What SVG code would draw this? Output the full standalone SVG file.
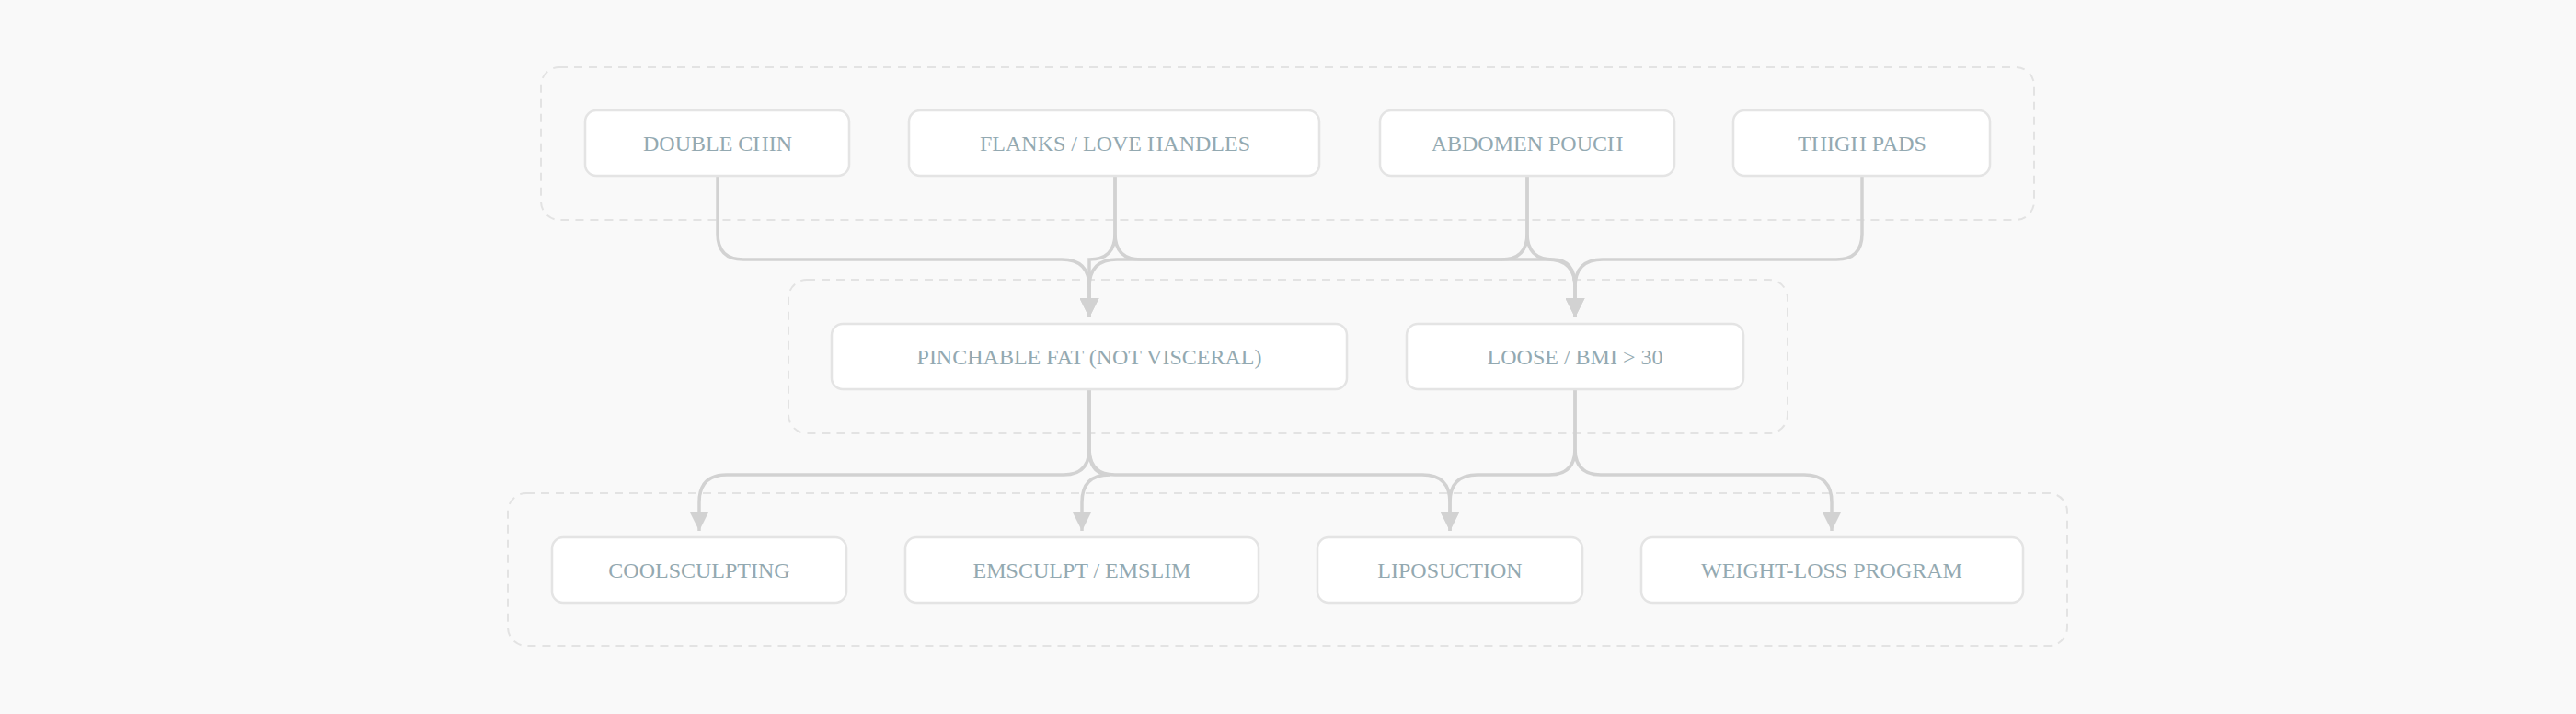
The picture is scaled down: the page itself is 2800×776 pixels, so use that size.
<svg xmlns="http://www.w3.org/2000/svg" width="2800" height="776" viewBox="0 0 2800 776">
<defs>
<style>
.grp{fill:none;stroke:#e3e3e3;stroke-width:2;stroke-dasharray:9 7}
.box{fill:#fff;stroke:#e4e4e4;stroke-width:2.5}
.t{font-family:"Liberation Serif",serif;font-size:24px;fill:#93a9b1;text-anchor:middle;dominant-baseline:central}
.e{fill:none;stroke:#d2d2d2;stroke-width:3.5}
</style>
<marker id="ah" viewBox="0 0 10 10" refX="10" refY="5" markerWidth="6" markerHeight="6" markerUnits="strokeWidth" orient="auto"><path d="M0,0L10,5L0,10z" fill="#d2d2d2"/></marker>
</defs>
<rect width="2800" height="776" fill="#f9f9f9"/>
<rect class="grp" x="588" y="73" width="1623" height="166" rx="20"/>
<rect class="grp" x="857" y="304" width="1086" height="167" rx="20"/>
<rect class="grp" x="552" y="536" width="1695" height="166" rx="20"/>
<g id="connectors">
<path class="e" marker-end="url(#ah)" d="M780,191V254Q780,282 808,282H1154Q1184,282 1184,312V345"/>
<path class="e" marker-end="url(#ah)" d="M1212,191V254Q1212,282 1184,282Q1184,282 1184,312V345"/>
<path class="e" marker-end="url(#ah)" d="M1212,191V254Q1212,282 1240,282H1682Q1712,282 1712,312V345"/>
<path class="e" marker-end="url(#ah)" d="M1660,191V254Q1660,282 1632,282H1214Q1184,282 1184,312V345"/>
<path class="e" marker-end="url(#ah)" d="M1660,191V254Q1660,282 1688,282Q1712,282 1712,312V345"/>
<path class="e" marker-end="url(#ah)" d="M2024,191V254Q2024,282 1996,282H1742Q1712,282 1712,312V345"/>
<path class="e" marker-end="url(#ah)" d="M1184,423V488Q1184,516 1156,516H790Q760,516 760,546V577"/>
<path class="e" marker-end="url(#ah)" d="M1184,423V488Q1184,516 1206,516Q1176,516 1176,546V577"/>
<path class="e" marker-end="url(#ah)" d="M1184,423V488Q1184,516 1212,516H1546Q1576,516 1576,546V577"/>
<path class="e" marker-end="url(#ah)" d="M1712,423V488Q1712,516 1684,516H1606Q1576,516 1576,546V577"/>
<path class="e" marker-end="url(#ah)" d="M1712,423V488Q1712,516 1740,516H1961Q1991,516 1991,546V577"/>
</g>
<g id="n1"><rect class="box" x="636" y="120" width="287" height="71" rx="12"/><text class="t" x="780" y="156">DOUBLE CHIN</text></g>
<g id="n2"><rect class="box" x="988" y="120" width="446" height="71" rx="12"/><text class="t" x="1212" y="156">FLANKS / LOVE HANDLES</text></g>
<g id="n3"><rect class="box" x="1500" y="120" width="320" height="71" rx="12"/><text class="t" x="1660" y="156">ABDOMEN POUCH</text></g>
<g id="n4"><rect class="box" x="1884" y="120" width="279" height="71" rx="12"/><text class="t" x="2024" y="156">THIGH PADS</text></g>
<g id="n5"><rect class="box" x="904" y="352" width="560" height="71" rx="12"/><text class="t" x="1184" y="388">PINCHABLE FAT (NOT VISCERAL)</text></g>
<g id="n6"><rect class="box" x="1529" y="352" width="366" height="71" rx="12"/><text class="t" x="1712" y="388">LOOSE / BMI &gt; 30</text></g>
<g id="n7"><rect class="box" x="600" y="584" width="320" height="71" rx="12"/><text class="t" x="760" y="620">COOLSCULPTING</text></g>
<g id="n8"><rect class="box" x="984" y="584" width="384" height="71" rx="12"/><text class="t" x="1176" y="620">EMSCULPT / EMSLIM</text></g>
<g id="n9"><rect class="box" x="1432" y="584" width="288" height="71" rx="12"/><text class="t" x="1576" y="620">LIPOSUCTION</text></g>
<g id="n10"><rect class="box" x="1784" y="584" width="415" height="71" rx="12"/><text class="t" x="1991" y="620">WEIGHT-LOSS PROGRAM</text></g>
</svg>
